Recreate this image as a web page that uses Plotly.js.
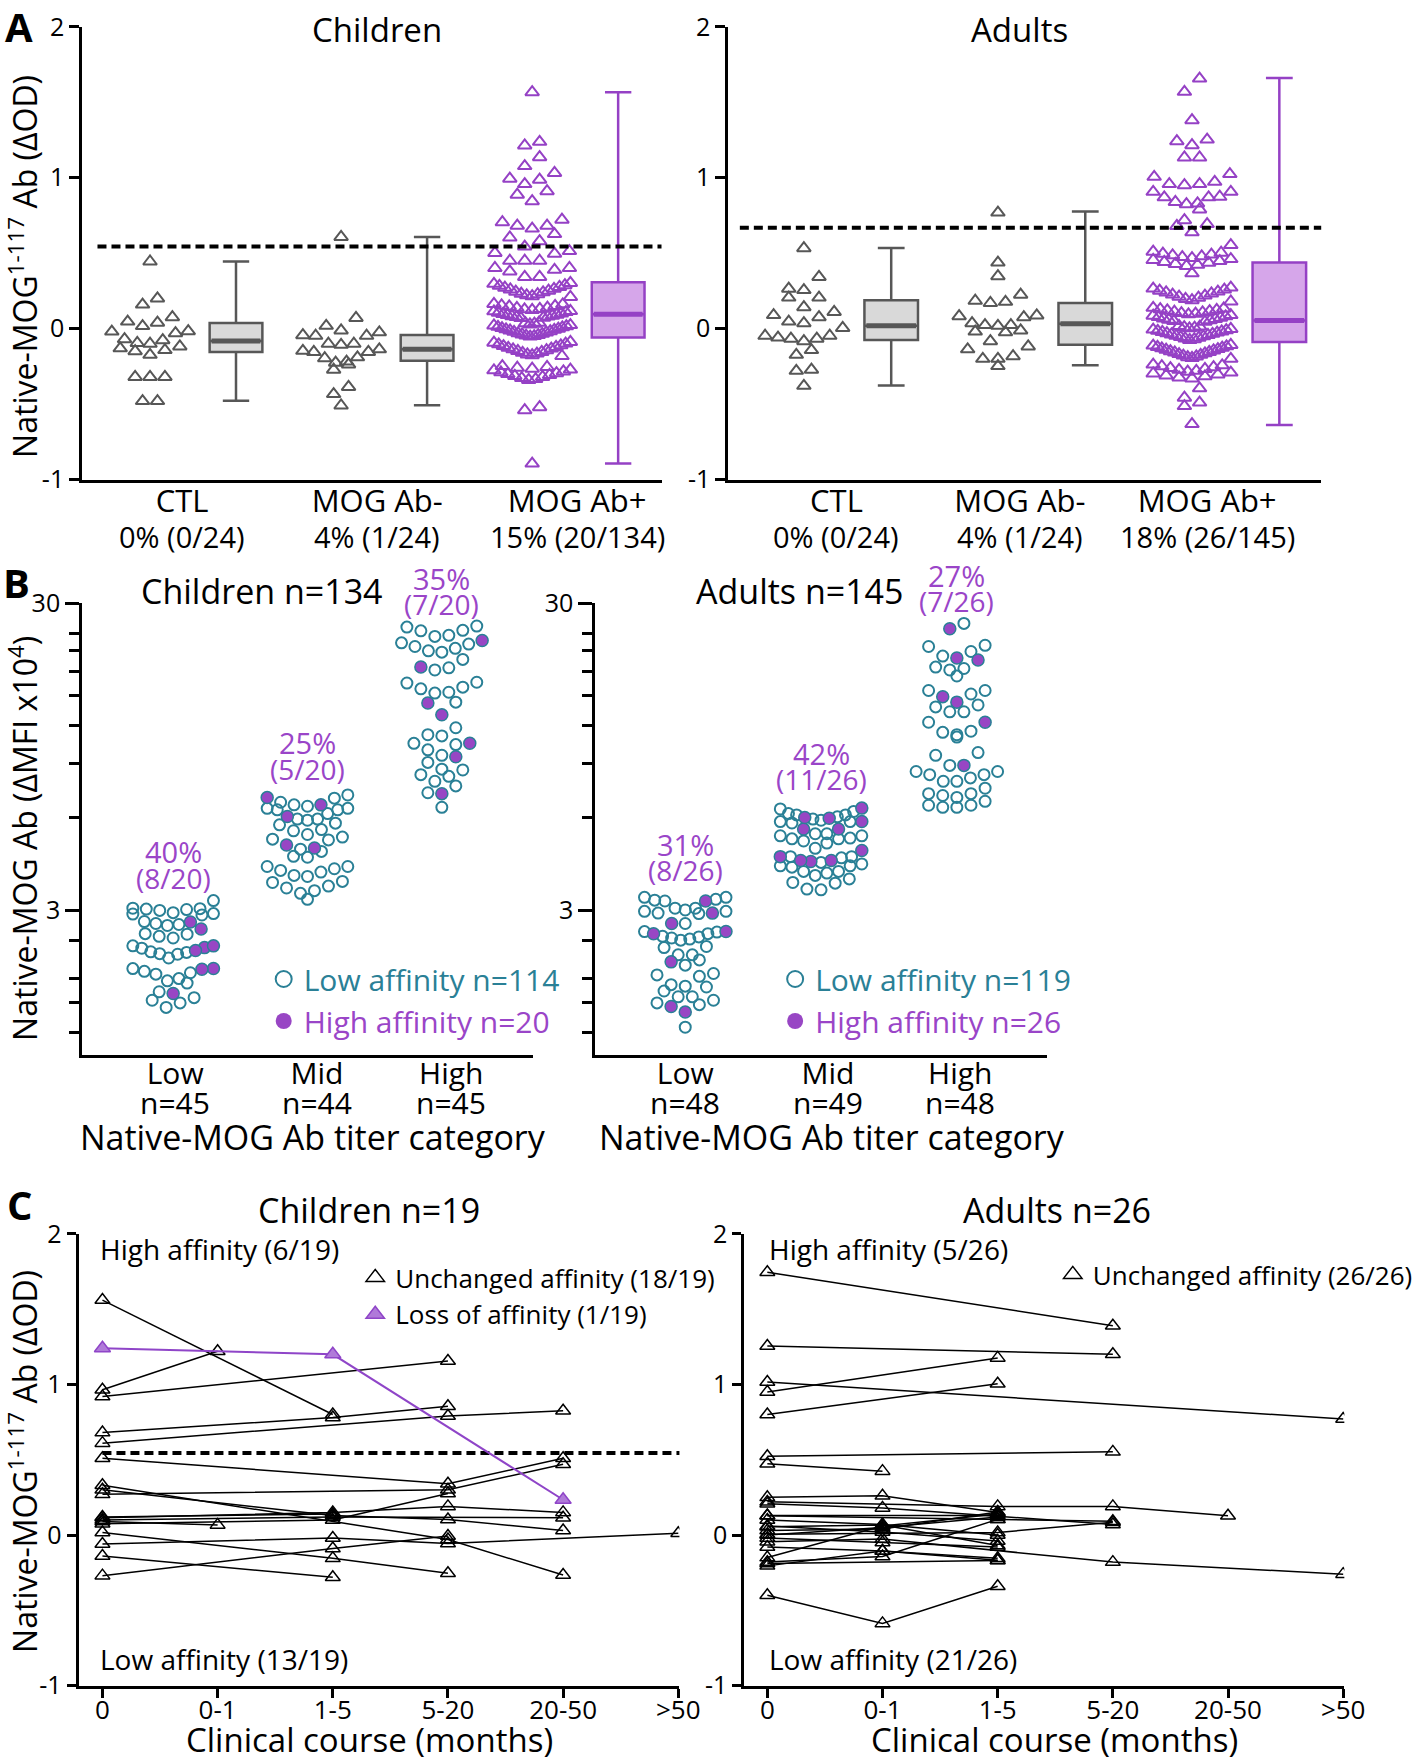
<!DOCTYPE html>
<html><head><meta charset="utf-8">
<script src="https://cdn.plot.ly/plotly-3.0.1.min.js"></script>
<style>html,body{margin:0;padding:0;background:#fff;overflow:hidden;width:1418px;height:1762px}#chart{width:1418px;height:1762px}</style>
</head><body><div id="chart"></div>
<script>
// ================= DATA =================
// Panel A – native-MOG(1-117) ELISA, delta OD
const groupsA = ['CTL', 'MOG Ab-', 'MOG Ab+'];
const pctChildA = ['0% (0/24)', '4% (1/24)', '15% (20/134)'];
const pctAdultA = ['0% (0/24)', '4% (1/24)', '18% (26/145)'];
const cutChild = 0.545;
const cutAdult = 0.668;

const aChildCTL = [0.445,0.20,0.16,0.076,0.047,0.04,0.017,-0.019,-0.03,-0.017,-0.07,-0.076,-0.10,-0.095,-0.118,-0.13,-0.142,-0.149,-0.173,-0.32,-0.32,-0.32,-0.48,-0.48];
const aChildNeg = [0.608,0.071,0.019,-0.012,-0.024,-0.043,-0.047,-0.047,-0.10,-0.107,-0.10,-0.154,-0.154,-0.137,-0.147,-0.19,-0.196,-0.218,-0.225,-0.237,-0.272,-0.386,-0.433,-0.509];
const aChildPos = [1.567,1.238,1.214,1.136,1.077,1.032,0.994,0.987,0.958,0.911,0.888,0.845,0.722,0.705,0.682,0.682,0.663,0.627,0.604,0.580,0.544,0.514,0.502,0.497,0.450,0.450,0.450,0.402,0.402,0.390,0.379,0.343,0.343,
  0.303,0.297,0.288,0.284,0.276,0.271,0.264,0.260,0.252,0.245,0.241,0.232,0.228,0.221,0.215,0.210,
  0.164,0.161,0.154,0.151,0.147,0.140,0.138,0.131,0.128,0.124,0.117,0.115,0.110,0.106,0.101,0.097,0.093,0.090,0.086,0.083,0.080,0.077,0.073,0.070,
  0.040,0.036,0.033,0.028,0.024,0.021,0.016,0.012,0.009,0.004,0.000,-0.004,-0.008,-0.012,-0.017,-0.021,-0.025,-0.030,-0.034,-0.038,-0.042,-0.046,-0.049,-0.052,
  -0.088,-0.093,-0.099,-0.104,-0.110,-0.115,-0.121,-0.127,-0.132,-0.137,-0.143,-0.148,-0.154,-0.160,-0.165,-0.171,-0.176,-0.181,
  -0.248,-0.254,-0.259,-0.265,-0.271,-0.276,-0.283,-0.289,-0.295,-0.301,-0.307,-0.313,-0.320,-0.327,-0.334,-0.340,
  -0.520,-0.540,-0.894];
const aAdultCTL = [0.533,0.343,0.256,0.265,0.206,0.206,0.142,0.111,0.09,0.076,0.047,0.036,0.005,-0.059,-0.066,-0.047,-0.083,-0.066,-0.047,-0.142,-0.173,-0.272,-0.279,-0.379];
const aAdultNeg = [0.769,0.438,0.348,0.225,0.178,0.17,0.185,0.088,0.076,0.083,0.024,0.019,0.024,0.036,-0.019,-0.024,-0.012,-0.083,-0.137,-0.118,-0.2,-0.2,-0.182,-0.248];
const aAdultPos = [1.657,1.569,1.381,1.253,1.242,1.216,1.134,1.134,1.024,1.006,0.973,0.958,0.958,0.951,0.907,0.907,0.874,0.870,0.870,0.840,0.830,0.825,0.790,0.719,0.693,0.681,0.638,0.554,
  0.510,0.503,0.497,0.491,0.486,0.479,0.474,0.468,0.461,0.455,0.448,0.442,0.436,0.429,0.423,0.416,
  0.367,
  0.272,0.266,0.259,0.252,0.246,0.240,0.233,0.226,0.219,0.212,0.205,0.197,0.189,0.180,
  0.138,0.134,0.129,0.125,0.121,0.116,0.112,0.108,0.103,0.099,0.095,0.090,0.086,0.082,0.077,0.073,0.068,0.064,0.059,0.055,0.050,0.046,
  0.018,0.014,0.010,0.006,0.002,-0.002,-0.006,-0.010,-0.014,-0.018,-0.022,-0.026,-0.030,-0.034,-0.038,-0.042,-0.047,-0.051,-0.056,-0.060,-0.065,-0.070,-0.075,
  -0.108,-0.112,-0.117,-0.121,-0.126,-0.130,-0.135,-0.139,-0.144,-0.149,-0.154,-0.158,-0.163,-0.168,-0.173,-0.178,-0.184,-0.189,-0.194,-0.200,
  -0.238,-0.243,-0.249,-0.255,-0.261,-0.267,-0.273,-0.279,-0.285,-0.291,-0.297,-0.303,-0.310,-0.316,-0.323,-0.330,
  -0.395,-0.457,-0.490,-0.513,-0.632];
// box statistics (CTL, MOG Ab-, MOG Ab+)
const childQ1  = [-0.155, -0.213, -0.059];
const childMed = [-0.082, -0.137, 0.095];
const childQ3  = [0.037, -0.042, 0.308];
const childLo  = [-0.478, -0.508, -0.894];
const childHi  = [0.445, 0.608, 1.566];
const adultQ1  = [-0.075, -0.106, -0.089];
const adultMed = [0.019, 0.033, 0.054];
const adultQ3  = [0.189, 0.170, 0.438];
const adultLo  = [-0.376, -0.243, -0.638];
const adultHi  = [0.535, 0.776, 1.66];

// Panel B – native-MOG titer (delta MFI x10^4), by titer category
const titerCats = ['Low', 'Mid', 'High'];
const childN = ['n=45', 'n=44', 'n=45'];
const adultN = ['n=48', 'n=49', 'n=48'];
const childPct = ['40%', '25%', '35%'];
const childFrac = ['(8/20)', '(5/20)', '(7/20)'];
const adultPct = ['31%', '42%', '27%'];
const adultFrac = ['(8/26)', '(11/26)', '(7/26)'];
const bChildLowOpen  = [3.23,3.05,3.03,3.02,3.04,3.00,2.92,2.90,2.93,2.95,2.72,2.70,2.76,2.68,2.52,2.47,2.44,2.51,2.30,2.26,2.20,2.17,2.16,2.19,2.10,1.94,1.90,1.88,1.86,1.80,1.74,1.77,1.63,1.56,1.50,1.45,1.53];
const bChildLowHigh  = [2.61,2.75,2.27,2.22,2.30,1.94,1.93,1.61];
const bChildMidOpen  = [6.96,7.13,6.62,6.55,6.45,6.38,5.95,6.2,6.38,6.45,6.75,5.95,5.7,5.5,5.3,5.12,5.2,5.45,5.77,5.9,5.09,4.67,4.47,4.5,4.75,4.17,4.1,4.0,3.87,3.9,4.05,4.17,3.73,3.6,3.48,3.26,3.41,3.55,3.7];
const bChildMidHigh  = [6.99,6.07,6.62,4.79,4.90];
const bChildHighOpen = [25.3,24.5,24.4,25.1,23.4,22.3,21.7,21.0,20.8,21.4,22.1,23.6,18.2,18.5,19.7,16.6,16.0,15.4,15.3,15.8,16.5,14.3,11.8,11.1,10.5,11.2,10.4,9.1,9.6,10.0,8.65,8.3,7.9,7.63,8.2,8.6,7.25,6.5];
const bChildHighHigh = [22.7,18.6,14.2,13.0,10.5,9.5,7.2];
const bAdultLowOpen  = [3.26,3.31,3.24,3.22,3.31,3.05,3.01,2.93,3.05,2.94,2.98,2.98,2.72,2.55,2.46,2.42,2.40,2.44,2.47,2.52,2.56,2.29,2.27,2.15,1.99,2.07,2.15,1.87,1.83,1.85,1.69,1.70,1.72,1.64,1.57,1.53,1.48,1.50,1.57,1.25];
const bAdultLowHigh  = [3.22,2.94,2.72,2.56,2.52,2.04,1.46,1.40];
const bAdultMidOpen  = [6.30,6.42,6.20,6.14,5.90,5.84,5.78,5.84,6.14,6.05,5.95,5.33,5.25,5.16,5.13,4.78,4.97,5.13,5.25,5.33,5.05,4.49,4.45,4.19,4.15,4.19,4.49,4.30,4.25,4.02,3.97,4.02,3.80,3.68,3.50,3.52,3.70,3.90];
const bAdultMidHigh  = [6.46,5.52,5.52,5.84,5.99,6.02,4.70,4.36,4.33,4.36,4.49];
const bAdultHighOpen = [25.8,21.7,20.9,21.9,20.2,18.2,18.4,18.6,17.4,15.6,15.6,15.2,13.8,13.3,13.3,14.0,12.3,11.2,11.0,11.5,11.4,9.6,9.8,8.9,8.5,8.3,8.1,7.9,7.5,7.9,8.3,8.5,7.2,7.0,6.8,6.6,6.5,6.5,6.6,7.1,7.2];
const bAdultHighHigh = [24.8,19.9,19.6,14.3,14.9,12.3,8.9];

// Panel C – follow-up, delta OD by clinical course (one row per patient)
const courseCats = ['0', '0-1', '1-5', '5-20', '20-50', '>50'];
const cChildUnchanged = [
  [1.56, null, 0.80, null, null, null],
  [0.965, 1.22, null, null, null, null],
  [0.92, null, null, 1.155, null, null],
  [0.68, null, 0.78, 0.855, null, null],
  [0.61, null, null, 0.79, 0.825, null],
  [0.51, null, null, 0.34, 0.51, null],
  [0.33, null, null, -0.03, -0.266, null],
  [0.27, null, null, 0.30, 0.47, null],
  [0.30, null, 0.13, 0.103, 0.03, null],
  [0.115, null, 0.15, 0.19, 0.15, null],
  [0.09, 0.067, null, null, null, null],
  [0.075, null, 0.10, 0.275, null, null],
  [0.10, null, 0.12, null, 0.115, null],
  [0.017, null, -0.155, -0.254, null, null],
  [-0.06, null, -0.02, -0.057, null, 0.012],
  [-0.14, null, -0.28, null, null, null],
  [-0.27, null, -0.09, -0.007, null, null],
  [0.12, null, 0.14, null, null, null]
];
const cChildLoss = [1.24, null, 1.20, null, 0.234, null];
const cAdultUnchanged = [
  [1.745, null, null, 1.39, null, null],
  [1.255, null, null, 1.20, null, null],
  [0.95, null, 1.176, null, null, null],
  [1.016, null, null, null, null, 0.77],
  [0.80, null, 1.004, null, null, null],
  [0.523, null, null, 0.552, null, null],
  [0.473, 0.424, null, null, null, null],
  [0.25, 0.26, 0.15, null, null, null],
  [0.22, null, 0.19, 0.19, 0.128, null],
  [0.207, 0.18, null, 0.07, null, null],
  [0.128, null, 0.104, 0.091, null, null],
  [0.054, 0.067, -0.07, null, null, null],
  [0.03, 0.04, 0.153, null, null, null],
  [0.005, null, 0.017, 0.085, null, null],
  [-0.044, -0.027, null, -0.18, null, -0.26],
  [-0.08, -0.106, -0.168, null, null, null],
  [-0.18, -0.143, 0.104, null, null, null],
  [-0.205, -0.106, -0.155, null, null, null],
  [-0.40, -0.587, -0.34, null, null, null],
  [0.10, 0.07, 0.0, null, null, null],
  [0.0, 0.05, 0.12, null, null, null],
  [-0.02, -0.05, -0.08, null, null, null],
  [-0.15, 0.06, 0.14, null, null, null],
  [0.06, 0.02, -0.04, null, null, null],
  [-0.19, null, -0.17, null, null, null],
  [0.13, null, 0.13, null, null, null]
];

// ================= STYLE / LAYOUT HELPERS =================
const FONT = '"Open Sans", "Noto Sans", Arial, sans-serif';
const W = 1418, H = 1762;
const px = v => v / W, py = v => 1 - v / H;
const GRAY = '#575757', GRAY_FILL = '#d9d9d9';
const PURPLE = '#9541c5', PURPLE_FILL = '#d6a6ea';
const TEAL = '#2a8096', DOT_PURPLE = '#9846c4', TXT_PURPLE = '#9a45c8';
const C_PURPLE = '#8f45c8', C_PURPLE_FILL = '#b07ad9';

// Prism-like column scatter: rows of nearby values, smallest in the centre
function swarm(vals, dx, maxHalf, binH) {
  const n = vals.length;
  const order = vals.map((v, i) => i).sort((a, b) => vals[b] - vals[a]);
  const off = new Array(n).fill(0);
  let i = 0;
  while (i < n) {
    const top = vals[order[i]];
    const grp = [];
    while (i < n && top - vals[order[i]] < binH) { grp.push(order[i]); i++; }
    grp.sort((a, b) => vals[a] - vals[b]);
    const m = grp.length;
    const step = m > 1 ? Math.min(dx, 2 * maxHalf / (m - 1)) : 0;
    grp.forEach((idx, k) => {
      let slot;
      if (m % 2 === 1) slot = k === 0 ? 0 : (k % 2 === 1 ? -Math.ceil(k / 2) : k / 2);
      else slot = k % 2 === 0 ? -(k / 2 + 0.5) : ((k - 1) / 2 + 0.5);
      off[idx] = slot * step;
    });
  }
  return off;
}

const traces = [];

// ---------- Panel A ----------
const panelsA = [
  {xa: 'x', ya: 'y', sets: [aChildCTL, aChildNeg, aChildPos], q1: childQ1, med: childMed, q3: childQ3, lo: childLo, hi: childHi, cut: cutChild, dash: [-0.50, 2.453]},
  {xa: 'x2', ya: 'y2', sets: [aAdultCTL, aAdultNeg, aAdultPos], q1: adultQ1, med: adultMed, q3: adultQ3, lo: adultLo, hi: adultHi, cut: cutAdult, dash: [-0.555, 2.442]}
];
const BOXW = 0.276, SHIFT = 0.225;
panelsA.forEach(p => {
  p.sets.forEach((vals, g) => {
    const col = g === 2 ? PURPLE : GRAY;
    const fill = g === 2 ? PURPLE_FILL : GRAY_FILL;
    const bx = g + SHIFT;
    traces.push({type: 'box', x: [bx], q1: [p.q1[g]], median: [p.med[g]], q3: [p.q3[g]],
      lowerfence: [p.lo[g]], upperfence: [p.hi[g]], width: BOXW, whiskerwidth: 0.5,
      fillcolor: fill, line: {color: col, width: 2.5}, boxpoints: false,
      xaxis: p.xa, yaxis: p.ya, showlegend: false, hoverinfo: 'skip'});
    traces.push({type: 'scatter', mode: 'lines', x: [bx - BOXW / 2 + 0.01, bx + BOXW / 2 - 0.01], y: [p.med[g], p.med[g]],
      line: {color: col, width: 5}, xaxis: p.xa, yaxis: p.ya, showlegend: false, hoverinfo: 'skip'});
    const off = swarm(vals, 0.078, 0.2, 0.09);
    traces.push({type: 'scatter', mode: 'markers', x: vals.map((v, i) => g - SHIFT + off[i]), y: vals,
      marker: {symbol: 'triangle-up-open', size: 12, color: col, line: {width: 2}},
      xaxis: p.xa, yaxis: p.ya, showlegend: false, hoverinfo: 'y'});
  });
  traces.push({type: 'scatter', mode: 'lines', x: p.dash, y: [p.cut, p.cut],
    line: {color: '#000', width: 4, dash: '9px,5px'}, xaxis: p.xa, yaxis: p.ya, showlegend: false, hoverinfo: 'skip'});
});

// ---------- Panel B ----------
const panelsB = [
  {xa: 'x3', ya: 'y3', open: [bChildLowOpen, bChildMidOpen, bChildHighOpen], high: [bChildLowHigh, bChildMidHigh, bChildHighHigh],
   legend: 'legend', nLow: 114, nHigh: 20},
  {xa: 'x4', ya: 'y4', open: [bAdultLowOpen, bAdultMidOpen, bAdultHighOpen], high: [bAdultLowHigh, bAdultMidHigh, bAdultHighHigh],
   legend: 'legend2', nLow: 119, nHigh: 26}
];
panelsB.forEach(p => {
  const ox = [], oy = [], hx = [], hy = [];
  for (let g = 0; g < 3; g++) {
    const all = p.open[g].concat(p.high[g]);
    const off = swarm(all.map(v => Math.log10(v)), 0.104, 0.30, 0.042);
    all.forEach((v, i) => {
      if (i < p.open[g].length) { ox.push(g + off[i]); oy.push(v); }
      else { hx.push(g + off[i]); hy.push(v); }
    });
  }
  traces.push({type: 'scatter', mode: 'markers', x: ox, y: oy, xaxis: p.xa, yaxis: p.ya,
    marker: {symbol: 'circle-open', size: 11, color: TEAL, line: {width: 2}},
    name: 'Low affinity n=' + p.nLow, showlegend: false, hoverinfo: 'y'});
  traces.push({type: 'scatter', mode: 'markers', x: hx, y: hy, xaxis: p.xa, yaxis: p.ya,
    marker: {symbol: 'circle', size: 12, color: DOT_PURPLE, line: {width: 1.5, color: TEAL}},
    name: 'High affinity n=' + p.nHigh, showlegend: false, hoverinfo: 'y'});
  // legend keys
  traces.push({type: 'scatter', mode: 'markers', x: [null], y: [null], xaxis: p.xa, yaxis: p.ya,
    marker: {symbol: 'circle-open', size: 16, color: TEAL, line: {width: 2}},
    name: '<span style="color:' + TEAL + '">Low affinity n=' + p.nLow + '</span>', legend: p.legend, showlegend: true});
  traces.push({type: 'scatter', mode: 'markers', x: [null], y: [null], xaxis: p.xa, yaxis: p.ya,
    marker: {symbol: 'circle', size: 16, color: DOT_PURPLE, line: {width: 0}},
    name: '<span style="color:' + TXT_PURPLE + '">High affinity n=' + p.nHigh + '</span>', legend: p.legend, showlegend: true});
});

// ---------- Panel C ----------
const panelsC = [
  {xa: 'x5', ya: 'y5', rows: cChildUnchanged, loss: cChildLoss, legend: 'legend3', cut: cutChild, dash: [0, 5],
   unchangedName: 'Unchanged affinity (18/19)', lossName: 'Loss of affinity (1/19)'},
  {xa: 'x6', ya: 'y6', rows: cAdultUnchanged, loss: null, legend: 'legend4', cut: cutAdult, dash: [-0.19, 5],
   unchangedName: 'Unchanged affinity (26/26)', lossName: null}
];
panelsC.forEach(p => {
  traces.push({type: 'scatter', mode: 'lines', x: p.dash, y: [p.cut, p.cut], xaxis: p.xa, yaxis: p.ya,
    line: {color: '#000', width: 4, dash: '9px,5px'}, showlegend: false, hoverinfo: 'skip'});
  p.rows.forEach(r => {
    traces.push({type: 'scatter', mode: 'lines+markers', x: courseCats, y: r, connectgaps: true, xaxis: p.xa, yaxis: p.ya,
      line: {color: '#000', width: 1.5}, marker: {symbol: 'triangle-up-open', size: 13, color: '#000', line: {width: 1.5}},
      showlegend: false, hoverinfo: 'y'});
  });
  if (p.loss) {
    traces.push({type: 'scatter', mode: 'lines+markers', x: courseCats, y: p.loss, connectgaps: true, xaxis: p.xa, yaxis: p.ya,
      line: {color: C_PURPLE, width: 2}, marker: {symbol: 'triangle-up', size: 14, color: C_PURPLE_FILL, line: {width: 1.5, color: C_PURPLE}},
      showlegend: false, hoverinfo: 'y'});
  }
  traces.push({type: 'scatter', mode: 'markers', x: [null], y: [null], xaxis: p.xa, yaxis: p.ya,
    marker: {symbol: 'triangle-up-open', size: 16, color: '#000', line: {width: 1.5}},
    name: p.unchangedName, legend: p.legend, showlegend: true});
  if (p.lossName) {
    traces.push({type: 'scatter', mode: 'markers', x: [null], y: [null], xaxis: p.xa, yaxis: p.ya,
      marker: {symbol: 'triangle-up', size: 16, color: C_PURPLE_FILL, line: {width: 1.5, color: C_PURPLE}},
      name: p.lossName, legend: p.legend, showlegend: true});
  }
});

// ================= AXES =================
const base = {showline: true, linecolor: '#000', linewidth: 3, showgrid: false, zeroline: false,
  ticks: 'outside', tickcolor: '#000', tickwidth: 3, ticklen: 10,
  tickfont: {family: FONT, size: 25, color: '#000'}, fixedrange: true};
const tickA_child = [-0.057, 0.964, 2.01];
const tickA_adult = [-0.057, 0.888, 1.853];
const tickB_child = [0.015, 1.07, 2.07];
const tickB_adult = [0, 1.05, 2.025];
const yA = {domain: [py(479.6), py(26.8)], range: [-1, 2], tickmode: 'array', tickvals: [-1, 0, 1, 2], ticktext: ['-1', '0', '1', '2']};
const xAcat = {ticks: '', tickmode: 'array', ticktext: groupsA, tickfont: {family: FONT, size: 31, color: '#000'}, ticklabelstandoff: -8};
const yB = {type: 'log', domain: [py(1055), py(603.3)], range: [0.0064, Math.log10(30)], tickmode: 'array', tickvals: [3, 30], ticktext: ['3', '30'], ticklen: 14,
  minor: {tickmode: 'array', tickvals: [1.2, 1.5, 1.8, 2.4, 6, 9, 12, 15, 18, 21, 24], ticks: 'outside', ticklen: 10, tickwidth: 3, tickcolor: '#000'}};
const xBcat = {ticks: '', tickmode: 'array', ticktext: titerCats, tickfont: {family: FONT, size: 30, color: '#000'}, ticklabelstandoff: -10};
const yC = {domain: [py(1685.6), py(1233.8)], range: [-1, 2], tickmode: 'array', tickvals: [-1, 0, 1, 2], ticktext: ['-1', '0', '1', '2'], ticklen: 9};
const xC = {type: 'category', categoryorder: 'array', categoryarray: courseCats, ticklen: 9, tickfont: {family: FONT, size: 26, color: '#000'}, ticklabelstandoff: -10};

// ================= ANNOTATIONS =================
function T(text, x, y, size, extra) {
  return Object.assign({text: text, x: px(x), y: py(y), xref: 'paper', yref: 'paper', showarrow: false,
    xanchor: 'center', yanchor: 'middle', font: {family: FONT, size: size, color: '#000'}}, extra || {});
}
function TD(text, xref, x, y, size, color) {
  return {text: text, x: x, y: py(y), xref: xref, yref: 'paper', showarrow: false, xanchor: 'center', yanchor: 'middle',
    font: {family: FONT, size: size, color: color || '#000'}};
}
const annotations = [
  T('<b>A</b>', 19, 26, 40), T('<b>B</b>', 17, 582, 40), T('<b>C</b>', 20, 1204, 40),
  T('Children', 379, 30, 33), T('Adults', 1025, 30, 33),
  T('Native-MOG<sup>1-117</sup> Ab (ΔOD)', 23, 266, 32, {textangle: -90}),
  T('Children n=134', 263, 591, 34), T('Adults n=145', 803.5, 591, 34),
  T('Native-MOG Ab titer category', 315, 1137, 34), T('Native-MOG Ab titer category', 836, 1137, 34),
  T('Native-MOG Ab (ΔMFI x10<sup>4</sup>)', 23, 838, 32, {textangle: -90}),
  T('Children n=19', 371, 1210, 34), T('Adults n=26', 1062, 1210, 34),
  T('High affinity (6/19)', 98.6, 1249, 28, {xanchor: 'left'}), T('Low affinity (13/19)', 98.6, 1659, 28, {xanchor: 'left'}),
  T('High affinity (5/26)', 771, 1249, 28, {xanchor: 'left'}), T('Low affinity (21/26)', 771, 1659, 28, {xanchor: 'left'}),
  T('Clinical course (months)', 371, 1739, 33), T('Clinical course (months)', 1060, 1739, 33),
  T('Native-MOG<sup>1-117</sup> Ab (ΔOD)', 23, 1461, 32, {textangle: -90})
];
pctChildA.forEach((t, i) => annotations.push(TD(t, 'x', tickA_child[i], 536, 29)));
pctAdultA.forEach((t, i) => annotations.push(TD(t, 'x2', tickA_adult[i], 536, 29)));
childN.forEach((t, i) => annotations.push(TD(t, 'x3', tickB_child[i], 1102, 30)));
adultN.forEach((t, i) => annotations.push(TD(t, 'x4', tickB_adult[i], 1102, 30)));
const pctYChild = [[851.4, 878], [742.3, 768.5], [578, 604]];
const pctYAdult = [[845, 870.2], [753, 779.2], [575, 601.3]];
childPct.forEach((t, i) => { annotations.push(TD(t, 'x3', i, pctYChild[i][0], 29, TXT_PURPLE)); annotations.push(TD(childFrac[i], 'x3', i, pctYChild[i][1], 28, TXT_PURPLE)); });
adultPct.forEach((t, i) => { annotations.push(TD(t, 'x4', i, pctYAdult[i][0], 29, TXT_PURPLE)); annotations.push(TD(adultFrac[i], 'x4', i, pctYAdult[i][1], 28, TXT_PURPLE)); });

const legBase = {bgcolor: 'rgba(0,0,0,0)', borderwidth: 0, xanchor: 'left', yanchor: 'top', itemwidth: 30, tracegroupgap: 0};
const layout = {
  width: W, height: H, margin: {l: 0, r: 0, t: 0, b: 0}, autosize: false,
  paper_bgcolor: '#fff', plot_bgcolor: 'rgba(0,0,0,0)', font: {family: FONT, color: '#000'},
  showlegend: true, hovermode: 'closest',
  xaxis: Object.assign({}, base, xAcat, {domain: [px(82.6), px(665)], range: [-0.58, 2.453], anchor: 'y', tickvals: tickA_child}),
  yaxis: Object.assign({}, base, yA, {anchor: 'x'}),
  xaxis2: Object.assign({}, base, xAcat, {domain: [px(732), px(1328)], range: [-0.614, 2.442], anchor: 'y2', tickvals: tickA_adult}),
  yaxis2: Object.assign({}, base, yA, {anchor: 'x2'}),
  xaxis3: Object.assign({}, base, xBcat, {domain: [px(82.6), px(535.7)], range: [-0.677, 2.679], anchor: 'y3', tickvals: tickB_child}),
  yaxis3: Object.assign({}, base, yB, {anchor: 'x3'}),
  xaxis4: Object.assign({}, base, xBcat, {domain: [px(598.3), px(1052.5)], range: [-0.662, 2.666], anchor: 'y4', tickvals: tickB_adult}),
  yaxis4: Object.assign({}, base, yB, {anchor: 'x4'}),
  xaxis5: Object.assign({}, base, xC, {domain: [px(79), px(682.8)], range: [-0.207, 5.01], anchor: 'y5'}),
  yaxis5: Object.assign({}, base, yC, {anchor: 'x5'}),
  xaxis6: Object.assign({}, base, xC, {domain: [px(748), px(1351)], range: [-0.2, 5.01], anchor: 'y6'}),
  yaxis6: Object.assign({}, base, yC, {anchor: 'x6'}),
  legend: Object.assign({}, legBase, {x: px(265), y: py(953), font: {family: FONT, size: 30, color: TEAL}}),
  legend2: Object.assign({}, legBase, {x: px(779), y: py(953), font: {family: FONT, size: 30, color: TEAL}}),
  legend3: Object.assign({}, legBase, {x: px(357), y: py(1254), font: {family: FONT, size: 26, color: '#000'}}),
  legend4: Object.assign({}, legBase, {x: px(1058), y: py(1251), font: {family: FONT, size: 26, color: '#000'}}),
  annotations: annotations
};
Plotly.newPlot('chart', traces, layout, {displayModeBar: false, staticPlot: true});
</script>
</body></html>
